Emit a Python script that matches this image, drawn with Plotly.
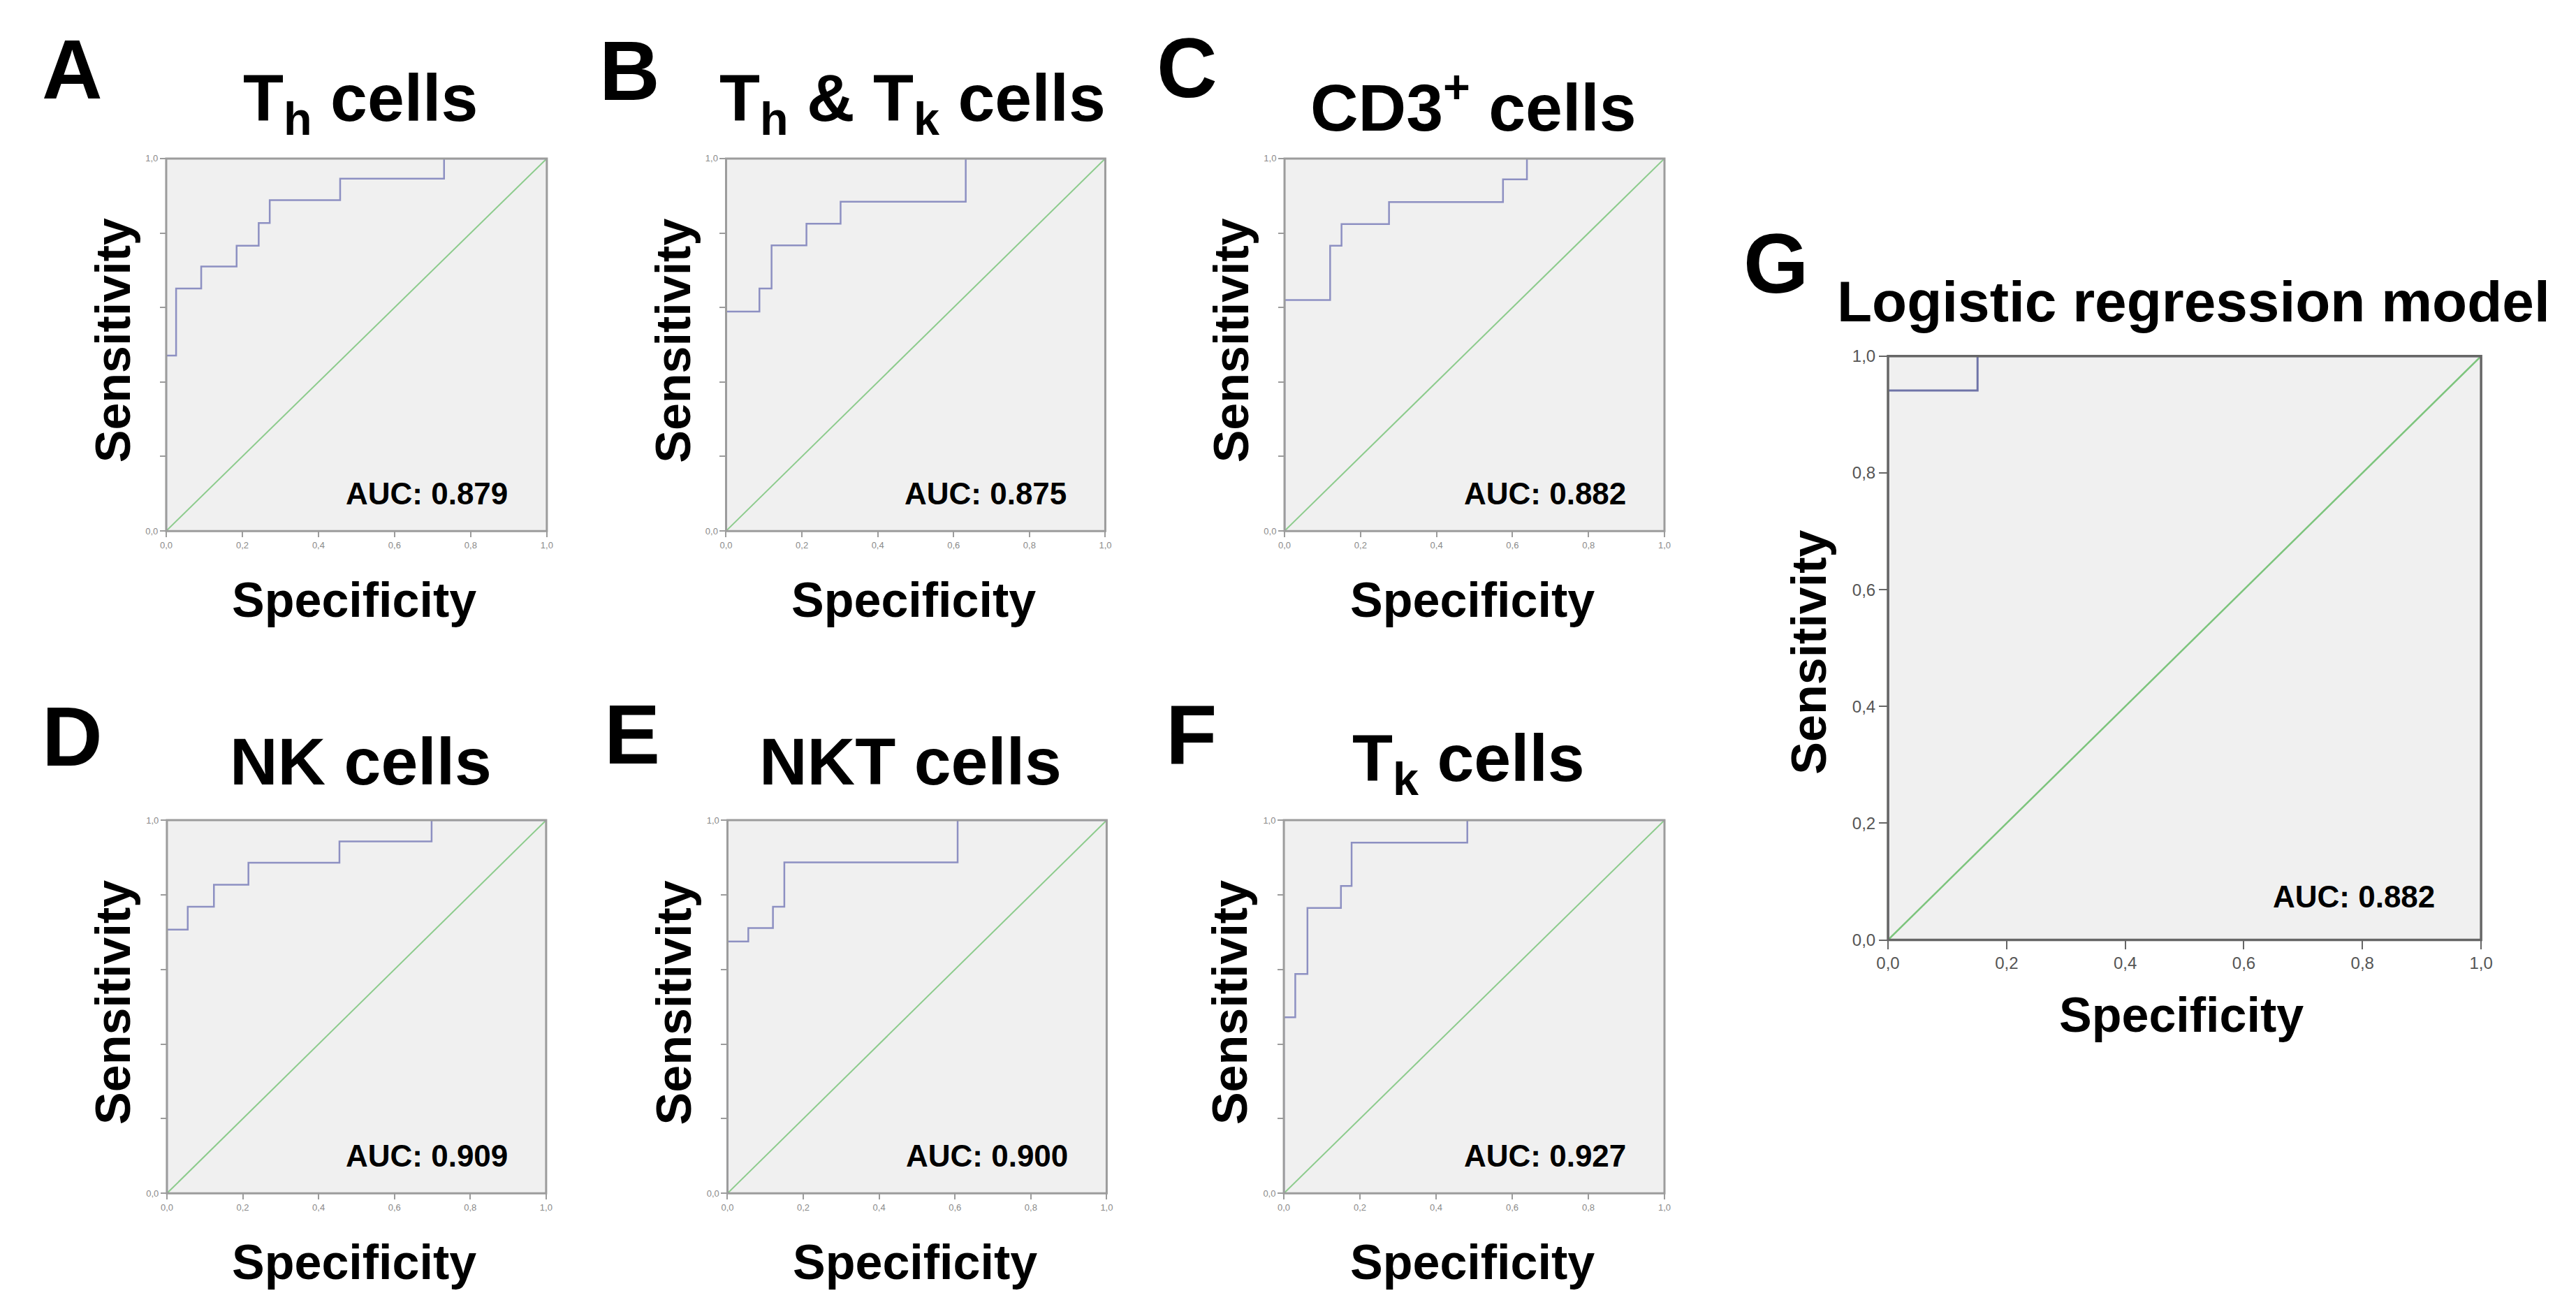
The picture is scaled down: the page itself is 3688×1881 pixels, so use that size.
import plotly.graph_objects as go

# ---------------- data ----------------
panel_letters = ["A", "B", "C", "D", "E", "F", "G"]
panel_titles = ["T<sub>h</sub> cells", "T<sub>h</sub> &amp; T<sub>k</sub> cells", "CD3<sup>+</sup> cells",
                "NK cells", "NKT cells", "T<sub>k</sub> cells", "Logistic regression model"]
auc_labels = ["AUC: 0.879", "AUC: 0.875", "AUC: 0.882", "AUC: 0.909", "AUC: 0.900", "AUC: 0.927", "AUC: 0.882"]

# step-curve corners: each x is where the level in the matching y ends
th_fpr = [0, 0.026, 0.092, 0.185, 0.243, 0.272, 0.457, 0.730, 1.0]
th_tpr = [0, 0.471, 0.651, 0.710, 0.766, 0.827, 0.888, 0.946, 1.0]
thtk_fpr = [0, 0.088, 0.120, 0.212, 0.302, 0.632, 1.0]
thtk_tpr = [0, 0.589, 0.651, 0.767, 0.825, 0.884, 1.0]
cd3_fpr = [0, 0.120, 0.150, 0.275, 0.575, 0.638, 1.0]
cd3_tpr = [0, 0.620, 0.766, 0.824, 0.883, 0.944, 1.0]
nk_fpr = [0, 0.055, 0.124, 0.215, 0.455, 0.698, 1.0]
nk_tpr = [0, 0.707, 0.768, 0.827, 0.886, 0.943, 1.0]
nkt_fpr = [0, 0.055, 0.120, 0.150, 0.607, 1.0]
nkt_tpr = [0, 0.675, 0.711, 0.768, 0.887, 1.0]
tk_fpr = [0, 0.030, 0.062, 0.150, 0.178, 0.482, 1.0]
tk_tpr = [0, 0.472, 0.588, 0.765, 0.824, 0.940, 1.0]
lr_fpr = [0, 0.151, 1.0]
lr_tpr = [0, 0.941, 1.0]

ref_x = [0, 1]
ref_y = [0, 1]

tick_vals = [0, 0.2, 0.4, 0.6, 0.8, 1.0]
tick_text = ["0,0", "0,2", "0,4", "0,6", "0,8", "1,0"]
end_vals = [0, 1.0]
end_text = ["0,0", "1,0"]

curves_fpr = [th_fpr, thtk_fpr, cd3_fpr, nk_fpr, nkt_fpr, tk_fpr, lr_fpr]
curves_tpr = [th_tpr, thtk_tpr, cd3_tpr, nk_tpr, nkt_tpr, tk_tpr, lr_tpr]

# ---------------- layout (pixels) ----------------
W, H = 3688, 1881
boxes = [(223, 216, 773, 757), (1032, 216, 1580, 757), (1839, 216, 2388, 757),
         (224, 1177, 772, 1719), (1034, 1177, 1582, 1719), (1838, 1177, 2388, 1719),
         (2711, 503, 3568, 1351)]
letter_pos = [(87, 86), (893, 88), (1698, 84), (87, 1055), (896, 1052), (1704, 1052), (2549, 368)]
title_pos = [(504, 135), (1302, 135), (2112, 135), (504, 1092), (1298, 1092), (2105, 1094), (3153, 424)]

FONT = "Liberation Sans, Arial, Helvetica, sans-serif"
BG = "#f0f0f0"

fig = go.Figure()
layout = dict(width=W, height=H, margin=dict(l=0, r=0, t=0, b=0),
              paper_bgcolor="white", plot_bgcolor=BG, showlegend=False,
              font=dict(family=FONT, color="black"))
annotations = []
shapes = []

for i in range(7):
    big = (i == 6)
    sfx = "" if i == 0 else str(i + 1)
    x0, y0, x1, y1 = boxes[i]
    edge = "#666666" if big else "#9c9c9c"
    fig.add_trace(go.Scatter(x=ref_x, y=ref_y, mode="lines",
                             line=dict(color="#7cc47c" if big else "#8ccb8c", width=2.5 if big else 2),
                             xaxis="x" + sfx, yaxis="y" + sfx, hoverinfo="skip"))
    fig.add_trace(go.Scatter(x=curves_fpr[i], y=curves_tpr[i], mode="lines",
                             line=dict(color="#6f74a8" if big else "#8d90c2", width=3 if big else 2.5, shape="vh"),
                             xaxis="x" + sfx, yaxis="y" + sfx, hoverinfo="skip"))
    axis_common = dict(range=[0, 1], showgrid=False, zeroline=False, showline=False,
                       ticks="outside", ticklen=12 if big else 8, tickwidth=2, tickcolor=edge,
                       fixedrange=True,
                       tickfont=dict(size=24 if big else 13, color="#555555" if big else "#8a8a8a"))
    layout["xaxis" + sfx] = dict(axis_common, domain=[x0 / W, x1 / W], anchor="y" + sfx,
                                 tickvals=tick_vals, ticktext=tick_text)
    if big:
        layout["yaxis" + sfx] = dict(axis_common, domain=[1 - y1 / H, 1 - y0 / H], anchor="x" + sfx,
                                     tickvals=tick_vals, ticktext=tick_text)
    else:
        layout["yaxis" + sfx] = dict(axis_common, domain=[1 - y1 / H, 1 - y0 / H], anchor="x" + sfx,
                                     tickvals=end_vals, ticktext=end_text,
                                     minor=dict(tick0=0, dtick=0.2, ticks="outside", ticklen=8,
                                                tickwidth=2, tickcolor=edge, showgrid=False))
    # frame drawn on top of the curves
    shapes.append(dict(type="rect", xref="x" + sfx + " domain", yref="y" + sfx + " domain",
                       x0=0, x1=1, y0=0, y1=1, layer="above",
                       line=dict(color=edge, width=3.5 if big else 3), fillcolor="rgba(0,0,0,0)"))
    # panel letter
    lx, ly = letter_pos[i]
    annotations.append(dict(text="<b>%s</b>" % panel_letters[i], x=lx / W, y=1 - ly / H,
                            xref="paper", yref="paper", showarrow=False,
                            xanchor="center", yanchor="middle", font=dict(size=120)))
    tx, ty = title_pos[i]
    annotations.append(dict(text="<b>%s</b>" % panel_titles[i], x=tx / W, y=1 - ty / H,
                            xref="paper", yref="paper", showarrow=False,
                            xanchor="center", yanchor="middle", font=dict(size=82 if big else 95)))
    # AUC label
    annotations.append(dict(text="<b>%s</b>" % auc_labels[i], x=0.925 if big else 0.902,
                            y=0.074 if big else 0.10, xref="x" + sfx, yref="y" + sfx,
                            showarrow=False, xanchor="right", yanchor="middle",
                            font=dict(size=44)))
    # axis titles
    if big:
        sx, sy = 2597, 933
        px_, py_ = 3135, 1460
    else:
        sx, sy = x0 - 77, (y0 + y1) / 2 - 6
        px_, py_ = (x0 + x1) / 2 - 3, y1 + 100
    annotations.append(dict(text="<b>Sensitivity</b>", x=sx / W, y=1 - sy / H, xref="paper", yref="paper",
                            showarrow=False, textangle=-90, xanchor="center", yanchor="middle",
                            font=dict(size=70)))
    annotations.append(dict(text="<b>Specificity</b>", x=px_ / W, y=1 - py_ / H, xref="paper", yref="paper",
                            showarrow=False, xanchor="center", yanchor="middle", font=dict(size=70)))

layout["annotations"] = annotations
layout["shapes"] = shapes
fig.update_layout(**layout)

fig.write_html("out.html", config={"displayModeBar": False},
               post_script="document.body.style.margin='0';document.body.style.overflow='hidden';")
